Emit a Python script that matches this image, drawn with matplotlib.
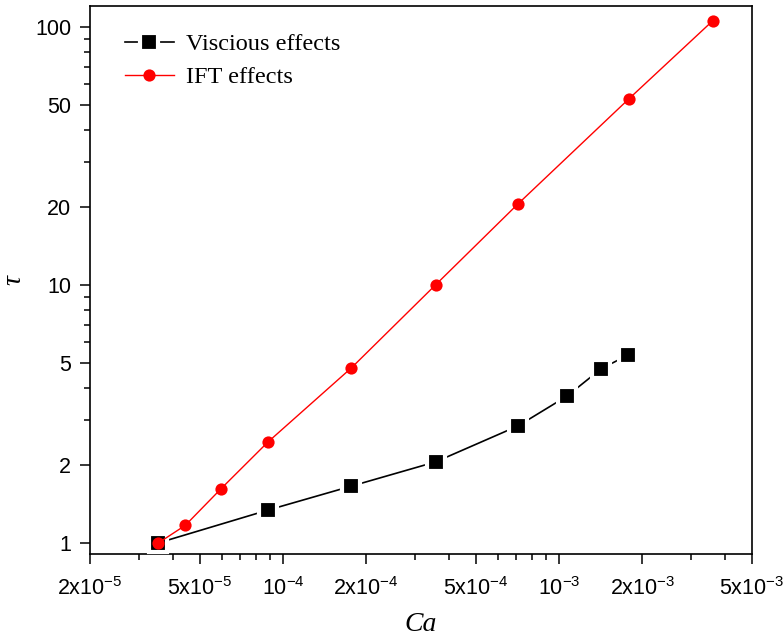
import matplotlib
matplotlib.use("Agg")
import matplotlib.pyplot as plt
from matplotlib.ticker import FixedLocator, FixedFormatter, NullFormatter

plt.rcParams['font.family'] = ['Liberation Sans', 'DejaVu Sans']
plt.rcParams['mathtext.fontset'] = 'custom'
plt.rcParams['mathtext.rm'] = 'Liberation Sans'

# ---- data ----
ca_visc = [3.54e-5, 8.82e-5, 1.77e-4, 3.57e-4, 7.10e-4, 1.07e-3, 1.42e-3, 1.78e-3]
tau_visc = [1.0, 1.34, 1.66, 2.06, 2.84, 3.71, 4.73, 5.35]

ca_ift = [3.54e-5, 4.43e-5, 5.96e-5, 8.82e-5, 1.77e-4, 3.57e-4, 7.10e-4, 1.79e-3, 3.6e-3]
tau_ift = [1.0, 1.17, 1.62, 2.46, 4.77, 10.0, 20.6, 52.6, 105.5]

x_major = [2e-5, 5e-5, 1e-4, 2e-4, 5e-4, 1e-3, 2e-3, 5e-3]
x_labels = [r'$\mathregular{2x10^{-5}}$', r'$\mathregular{5x10^{-5}}$', r'$\mathregular{10^{-4}}$',
            r'$\mathregular{2x10^{-4}}$', r'$\mathregular{5x10^{-4}}$', r'$\mathregular{10^{-3}}$',
            r'$\mathregular{2x10^{-3}}$', r'$\mathregular{5x10^{-3}}$']
x_minor = [3e-5, 4e-5, 6e-5, 7e-5, 8e-5, 9e-5, 3e-4, 4e-4, 6e-4, 7e-4, 8e-4, 9e-4, 3e-3, 4e-3]

y_major = [1, 2, 5, 10, 20, 50, 100]
y_labels = ['1', '2', '5', '10', '20', '50', '100']
y_minor = [3, 4, 6, 7, 8, 9, 30, 40, 60, 70, 80, 90]

fig = plt.figure(figsize=(7.84, 6.44), dpi=100)
ax = fig.add_axes([0.1148, 0.1398, 0.8444, 0.8509])

ax.plot(ca_visc, tau_visc, color='black', lw=1.2, marker='s', ms=13,
        markerfacecolor='black', markeredgecolor='white', mew=3,
        label='Viscious effects', zorder=3)
ax.plot(ca_ift, tau_ift, color='red', lw=1.0, marker='o', ms=8.8,
        markerfacecolor='red', markeredgecolor='red', mew=0,
        label='IFT effects', zorder=4)

ax.set_xscale('log')
ax.set_yscale('log')
ax.set_xlim(2e-5, 5e-3)
ax.set_ylim(0.906, 120.5)

ax.xaxis.set_major_locator(FixedLocator(x_major))
ax.xaxis.set_major_formatter(FixedFormatter(x_labels))
ax.xaxis.set_minor_locator(FixedLocator(x_minor))
ax.xaxis.set_minor_formatter(NullFormatter())
ax.yaxis.set_major_locator(FixedLocator(y_major))
ax.yaxis.set_major_formatter(FixedFormatter(y_labels))
ax.yaxis.set_minor_locator(FixedLocator(y_minor))
ax.yaxis.set_minor_formatter(NullFormatter())

ax.tick_params(which='major', direction='out', length=7.5, width=1.1, labelsize=15.5, pad=6,
               top=False, right=False)
ax.tick_params(axis='x', which='major', labelsize=15.5, pad=9)
ax.tick_params(which='minor', direction='out', length=4, width=1.1, top=False, right=False)
for s in ax.spines.values():
    s.set_linewidth(1.2)

ax.set_xlabel('Ca', family='Liberation Serif', style='italic', fontsize=20, labelpad=9)
ax.set_ylabel('τ', family='Liberation Serif', style='italic', fontsize=20, labelpad=6)

leg = ax.legend(loc='upper left', frameon=False, prop={'family': 'Liberation Serif', 'size': 17.5},
                handlelength=2.0, handletextpad=0.5, labelspacing=0.45,
                bbox_to_anchor=(0.02, 0.99))

fig.savefig('out.png', dpi=100)
